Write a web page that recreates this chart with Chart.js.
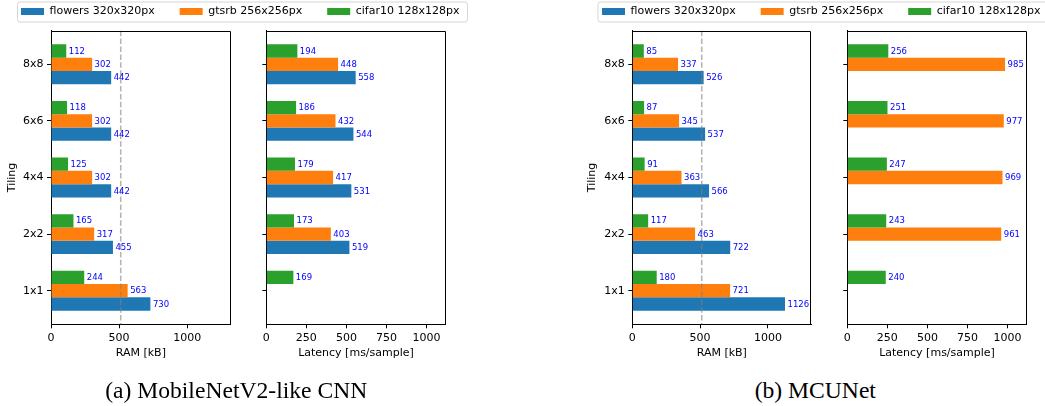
<!DOCTYPE html>
<html>
<head>
<meta charset="utf-8">
<script src="https://cdn.jsdelivr.net/npm/chart.js@4"></script>
<style>
  html, body { margin:0; padding:0; background:#fff; }
  body { width:1045px; height:406px; overflow:hidden; position:relative; }
  #wrap { position:absolute; left:0; top:0; width:1045px; height:406px; overflow:hidden; }
  canvas { position:absolute; }
  .cap { position:absolute; font-family:"Liberation Serif","Times New Roman",serif; font-size:23.6px; line-height:23.6px; white-space:nowrap; color:#000; transform:translateX(-50%); }
</style>
</head>
<body>
<div id="wrap">
  <canvas id="legA" width="520" height="80" style="left:-4px;top:-19px"></canvas>
  <canvas id="legB" width="520" height="80" style="left:577.3px;top:-19px"></canvas>
  <canvas id="ramA" width="245" height="352" style="left:0px;top:20px"></canvas>
  <canvas id="latA" width="210" height="352" style="left:250px;top:20px"></canvas>
  <canvas id="ramB" width="245" height="352" style="left:580px;top:20px"></canvas>
  <canvas id="latB" width="210" height="352" style="left:830px;top:20px"></canvas>
  <div class="cap" style="left:236.2px;top:378.6px">(a) MobileNetV2-like CNN</div>
  <div class="cap" style="left:815.3px;top:378.6px">(b) MCUNet</div>
</div>
<script>
// ---------------- data ----------------
const tilings = ['1x1', '2x2', '4x4', '6x6', '8x8'];
const seriesNames = ['flowers 320x320px', 'gtsrb 256x256px', 'cifar10 128x128px'];

// (a) MobileNetV2-like CNN
const mbRamFlowers  = [730, 455, 442, 442, 442];
const mbRamGtsrb    = [563, 317, 302, 302, 302];
const mbRamCifar    = [244, 165, 125, 118, 112];
const mbLatFlowers  = [null, 519, 531, 544, 558];
const mbLatGtsrb    = [null, 403, 417, 432, 448];
const mbLatCifar    = [169, 173, 179, 186, 194];

// (b) MCUNet
const mcRamFlowers  = [1126, 722, 566, 537, 526];
const mcRamGtsrb    = [721, 463, 363, 345, 337];
const mcRamCifar    = [180, 117, 91, 87, 85];
const mcLatFlowers  = [null, null, null, null, null];
const mcLatGtsrb    = [null, 961, 969, 977, 985];
const mcLatCifar    = [240, 243, 247, 251, 256];

const ramTicks = [0, 500, 1000];
const latTicks = [0, 250, 500, 750, 1000];
const ramMax = 1320;
const latMax = 1120;
const ramLimit = 512;

// ---------------- styles ----------------
const COLORS = { flowers: '#1f77b4', gtsrb: '#ff7f0e', cifar: '#2ca02c' };
const FAMILY = '"DejaVu Sans", Verdana, sans-serif';
const FONT = { family: FAMILY, size: 11 };

function pts(values) {
  return values.map((v, i) => (v === null ? null : { x: v, y: i })).filter(p => p !== null);
}

const frame = {
  id: 'frame',
  afterDraw(chart) {
    const { ctx, chartArea: a } = chart;
    ctx.save();
    ctx.strokeStyle = '#000';
    ctx.lineWidth = 1;
    const t = Math.round(a.top) + 0.5;
    const r = Math.round(a.right) - 0.5;
    const b = Math.round(a.bottom) + 0.5;
    ctx.beginPath();
    ctx.moveTo(Math.round(a.left), t);
    ctx.lineTo(r, t);
    ctx.lineTo(r, b);
    ctx.stroke();
    ctx.restore();
  }
};

const valueLabels = {
  id: 'valueLabels',
  afterDatasetsDraw(chart) {
    const ctx = chart.ctx;
    ctx.save();
    ctx.font = '8.5px ' + FAMILY;
    ctx.fillStyle = '#0000ff';
    ctx.textAlign = 'left';
    ctx.textBaseline = 'middle';
    chart.data.datasets.forEach((ds, i) => {
      const meta = chart.getDatasetMeta(i);
      meta.data.forEach((bar, j) => {
        const p = ds.data[j];
        if (!p) return;
        ctx.fillText(String(p.x), bar.x + 2.5, bar.y + 0.5);
      });
    });
    ctx.restore();
  }
};

const refLine = {
  id: 'refLine',
  afterDatasetsDraw(chart, args, opts) {
    if (opts.value === undefined || opts.value === null) return;
    const { ctx, chartArea: a, scales } = chart;
    const x = scales.x.getPixelForValue(opts.value);
    ctx.save();
    ctx.strokeStyle = 'rgba(128,128,128,0.6)';
    ctx.lineWidth = 1.5;
    ctx.setLineDash([5.5, 2.4]);
    ctx.beginPath();
    ctx.moveTo(x, a.top);
    ctx.lineTo(x, a.bottom);
    ctx.stroke();
    ctx.restore();
  }
};

function makePanel(id, canvasLeft, canvasTop, w, h, area, cfg) {
  const yWidth = area.left - canvasLeft;
  const padTop = area.top - canvasTop;
  const padRight = canvasLeft + w - area.right;
  const xHeight = canvasTop + h - area.bottom;
  const datasets = [
    { label: seriesNames[2], data: pts(cfg.cifar), backgroundColor: COLORS.cifar },
    { label: seriesNames[1], data: pts(cfg.gtsrb), backgroundColor: COLORS.gtsrb },
    { label: seriesNames[0], data: pts(cfg.flowers), backgroundColor: COLORS.flowers }
  ];
  return new Chart(document.getElementById(id), {
    type: 'bar',
    data: { datasets },
    options: {
      indexAxis: 'y',
      responsive: false,
      animation: false,
      devicePixelRatio: 1,
      datasets: { bar: { categoryPercentage: 0.705, barPercentage: 1.0, borderWidth: 0 } },
      layout: { padding: { top: padTop, right: padRight, left: 0, bottom: 0 } },
      plugins: {
        legend: { display: false },
        tooltip: { enabled: false },
        refLine: { value: cfg.refValue }
      },
      scales: {
        x: {
          type: 'linear', position: 'bottom', min: 0, max: cfg.xMax,
          afterBuildTicks: s => { s.ticks = cfg.xTicks.map(v => ({ value: v })); },
          afterFit: s => { s.height = xHeight; },
          grid: { display: true, drawOnChartArea: false, drawTicks: true, tickLength: 4, color: '#000', lineWidth: 1 },
          border: { display: true, color: '#000', width: 1 },
          ticks: { font: FONT, color: '#000', padding: 3, maxRotation: 0, autoSkip: false, callback: v => String(v) },
          title: { display: true, text: cfg.xTitle, font: FONT, color: '#000', padding: { top: 0, bottom: 12 } }
        },
        y: {
          type: 'linear', min: -0.594, max: 4.594, offset: false,
          afterBuildTicks: s => { s.ticks = tilings.map((t, i) => ({ value: i })); },
          afterFit: s => { s.width = yWidth; },
          grid: { display: true, offset: false, drawOnChartArea: false, drawTicks: true, tickLength: 4, color: '#000', lineWidth: 1 },
          border: { display: true, color: '#000', width: 1 },
          ticks: {
            font: FONT, color: '#000', padding: 3.5, autoSkip: false,
            callback: v => (cfg.showY ? tilings[Math.round(v)] : '')
          },
          title: { display: !!cfg.showY, text: 'Tiling', font: FONT, color: '#000', padding: { top: 6, bottom: 0 } }
        }
      }
    },
    plugins: [refLine, valueLabels, frame]
  });
}

const legendFrame = {
  id: 'legendFrame',
  beforeDraw(chart, args, o) {
    const ctx = chart.ctx;
    ctx.save();
    ctx.fillStyle = '#fff';
    ctx.strokeStyle = '#d6d6d6';
    ctx.lineWidth = 1;
    ctx.beginPath();
    ctx.roundRect(o.x + 0.5, o.y + 0.5, o.w, o.h, 2.5);
    ctx.fill();
    ctx.stroke();
    ctx.restore();
  }
};

function makeLegend(id, box) {
  return new Chart(document.getElementById(id), {
    type: 'bar',
    data: {
      labels: [],
      datasets: [
        { label: seriesNames[0], data: [], backgroundColor: COLORS.flowers, borderWidth: 0 },
        { label: seriesNames[1], data: [], backgroundColor: COLORS.gtsrb, borderWidth: 0 },
        { label: seriesNames[2], data: [], backgroundColor: COLORS.cifar, borderWidth: 0 }
      ]
    },
    options: {
      responsive: false, animation: false, devicePixelRatio: 1,
      layout: { padding: 0 },
      scales: { x: { display: false }, y: { display: false } },
      plugins: {
        tooltip: { enabled: false },
        legendFrame: box,
        legend: {
          display: true, position: 'top', align: 'start',
          labels: { boxWidth: 23, boxHeight: 7, padding: 25, font: FONT, color: '#000' }
        }
      }
    },
    plugins: [legendFrame]
  });
}

makeLegend('legA', { x: 21, y: 20.5, w: 450, h: 20 });
makeLegend('legB', { x: 20.4, y: 20.5, w: 450, h: 20 });

makePanel('ramA', 0, 20, 245, 352, { left: 51, top: 30.7, right: 230.7, bottom: 324.3 }, {
  flowers: mbRamFlowers, gtsrb: mbRamGtsrb, cifar: mbRamCifar,
  xMax: ramMax, xTicks: ramTicks, xTitle: 'RAM [kB]', showY: true, refValue: ramLimit
});
makePanel('latA', 250, 20, 210, 352, { left: 266.3, top: 30.7, right: 445.7, bottom: 324.3 }, {
  flowers: mbLatFlowers, gtsrb: mbLatGtsrb, cifar: mbLatCifar,
  xMax: latMax, xTicks: latTicks, xTitle: 'Latency [ms/sample]', showY: false, refValue: null
});
makePanel('ramB', 580, 20, 245, 352, { left: 632.3, top: 30.7, right: 811.3, bottom: 324.3 }, {
  flowers: mcRamFlowers, gtsrb: mcRamGtsrb, cifar: mcRamCifar,
  xMax: ramMax, xTicks: ramTicks, xTitle: 'RAM [kB]', showY: true, refValue: ramLimit
});
makePanel('latB', 830, 20, 210, 352, { left: 847.3, top: 30.7, right: 1026.7, bottom: 324.3 }, {
  flowers: mcLatFlowers, gtsrb: mcLatGtsrb, cifar: mcLatCifar,
  xMax: latMax, xTicks: latTicks, xTitle: 'Latency [ms/sample]', showY: false, refValue: null
});
</script>
</body>
</html>
